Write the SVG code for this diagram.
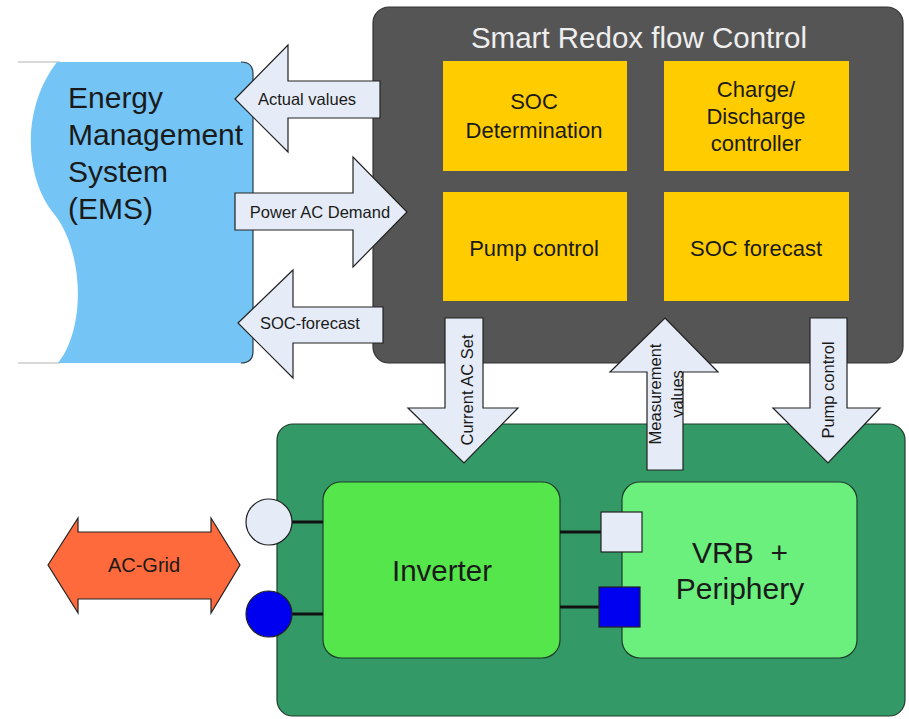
<svg xmlns="http://www.w3.org/2000/svg" width="909" height="719" viewBox="0 0 909 719">
<style>
text{font-family:"Liberation Sans",Arial,sans-serif;fill:#1a1a1a;text-anchor:middle;dominant-baseline:central}
.arrow{fill:#E6ECF7;stroke:#222;stroke-width:1.2}
.yel{fill:#FFCC00}
.yt{font-size:22px}
.al{font-size:16.5px}
.wire{stroke:#111;stroke-width:3}
.ems{text-anchor:start;font-size:30px}
</style>
<rect width="909" height="719" fill="#fff"/>
<g id="ems">
<line x1="18" y1="62" x2="60" y2="62" stroke="#ccc" stroke-width="1.5"/>
<line x1="18" y1="363" x2="60" y2="363" stroke="#ccc" stroke-width="1.5"/>
<path d="M57,62 L241,62 Q253,62 253,74 L253,351 Q253,363 241,363 L58,363 C85,330 85,255 55,215 C25,180 20,110 57,62 Z" fill="#74C5F5"/>
<path d="M241,62 Q253,62 253,74 L253,351 Q253,363 241,363" fill="none" stroke="#2a3a44" stroke-width="1.2"/>
<text class="ems" x="68" y="97">Energy</text>
<text class="ems" x="68" y="134">Management</text>
<text class="ems" x="68" y="171">System</text>
<text class="ems" x="68" y="208">(EMS)</text>
</g>
<g id="smart-redox">
<rect x="373" y="7" width="530" height="356" rx="16" fill="#555555" stroke="#333" stroke-width="1.2"/>
<text x="639" y="37" style="font-size:29.5px;fill:#eeeeee">Smart Redox flow Control</text>
</g>
<g id="soc-determination">
<rect class="yel" x="443" y="61" width="184" height="110"/>
<text class="yt" x="534" y="101">SOC</text>
<text class="yt" x="534" y="130">Determination</text>
</g>
<g id="charge-controller">
<rect class="yel" x="664" y="61" width="185" height="110"/>
<text class="yt" x="756" y="89">Charge/</text>
<text class="yt" x="756" y="116">Discharge</text>
<text class="yt" x="756" y="143">controller</text>
</g>
<g id="pump-control">
<rect class="yel" x="443" y="192" width="184" height="109"/>
<text class="yt" x="534" y="248">Pump control</text>
</g>
<g id="soc-forecast">
<rect class="yel" x="664" y="192" width="185" height="109"/>
<text class="yt" x="756" y="248">SOC forecast</text>
</g>
<g id="plant">
<rect x="277" y="424" width="628" height="292" rx="16" fill="#339966" stroke="#1f3d2b" stroke-width="1.2"/>
</g>
<g id="inverter">
<rect x="323" y="482" width="237" height="176" rx="18" fill="#55E64B" stroke="#1f3d2b" stroke-width="1.2"/>
<text x="442" y="570" style="font-size:29.5px">Inverter</text>
</g>
<g id="vrb">
<rect x="622" y="482" width="235" height="176" rx="18" fill="#6BEF7D" stroke="#1f3d2b" stroke-width="1.2"/>
<text x="740" y="552" style="font-size:30px" xml:space="preserve">VRB  +</text>
<text x="740" y="588" style="font-size:30px">Periphery</text>
</g>
<g id="ports">
<line class="wire" x1="292" y1="522" x2="323" y2="522"/>
<line class="wire" x1="292" y1="614" x2="323" y2="614"/>
<line class="wire" x1="560" y1="532" x2="601" y2="532"/>
<line class="wire" x1="560" y1="607" x2="600" y2="607"/>
<circle cx="269" cy="522" r="23" fill="#E6ECF7" stroke="#222" stroke-width="1.2"/>
<circle cx="269" cy="614" r="23" fill="#0000F0" stroke="#222" stroke-width="1.2"/>
<rect x="601" y="512" width="41" height="40" fill="#E6ECF7" stroke="#222" stroke-width="1.2"/>
<rect x="599" y="587" width="41" height="40" fill="#0000F0" stroke="#222" stroke-width="1.2"/>
</g>
<g id="connectors">
<g id="actual-values">
<polygon class="arrow" points="235,99 288,45 288,81 380,81 380,118 288,118 288,152"/>
<text class="al" x="307" y="99">Actual values</text>
</g>
<g id="power-ac-demand">
<polygon class="arrow" points="235,193 353,193 353,157 407,212 353,267 353,230 235,230"/>
<text class="al" x="320" y="212">Power AC Demand</text>
</g>
<g id="soc-forecast-arrow">
<polygon class="arrow" points="238,323 293,270 293,307 383,307 383,343 293,343 293,378"/>
<text class="al" x="310" y="323">SOC-forecast</text>
</g>
<g id="current-ac-set">
<polygon class="arrow" points="445,318 483,318 483,408 518,408 464,463 408,408 445,408"/>
<text class="al" transform="translate(467,390) rotate(-90)" x="0" y="0">Current AC Set</text>
</g>
<g id="measurement-values">
<polygon class="arrow" points="665,318 718,372 683,372 683,470 647,470 647,372 610,372"/>
<text class="al" transform="translate(655,394) rotate(-90)" x="0" y="0">Measurement</text>
<text class="al" transform="translate(677,394) rotate(-90)" x="0" y="0">values</text>
</g>
<g id="pump-control-arrow">
<polygon class="arrow" points="810,318 847,318 847,408 880,408 828,463 773,408 810,408"/>
<text class="al" transform="translate(828,390) rotate(-90)" x="0" y="0">Pump control</text>
</g>
<g id="ac-grid">
<polygon points="48,565 78,518 78,532 211,532 211,518 240,565 211,613 211,599 78,599 78,613" fill="#FF6A3C" stroke="#222" stroke-width="1.2"/>
<text x="144" y="565" style="font-size:20px">AC-Grid</text>
</g>
</g>
</svg>
